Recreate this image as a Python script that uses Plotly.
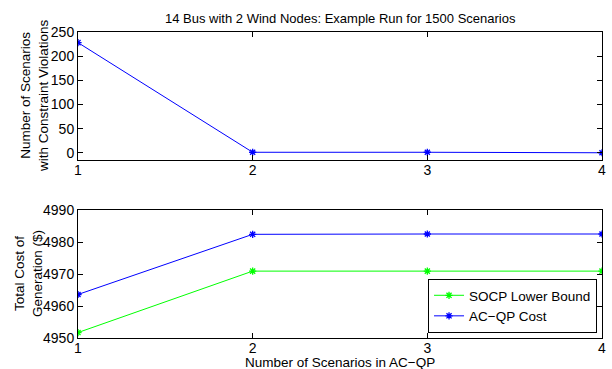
import plotly.graph_objects as go
from plotly.subplots import make_subplots

# Number of scenarios included in the AC-QP
scenarios = [1, 2, 3, 4]

# Scenarios (out of 1500) with constraint violations
violations = [228, 1, 1, 0]

# Total generation cost ($)
socp_lower_bound = [4951.7, 4970.9, 4970.9, 4970.9]
acqp_cost = [4963.6, 4982.4, 4982.5, 4982.5]

FONT = "Liberation Sans, Arial, Helvetica, sans-serif"
BLUE = "#0000ff"
GREEN = "#00ff00"

fig = make_subplots(rows=2, cols=1, vertical_spacing=0.1634)


def star_marker(color):
    return dict(color=color, symbol="asterisk", size=6, line=dict(width=1.3, color=color))


fig.add_trace(go.Scatter(
    x=scenarios, y=violations, mode="lines+markers",
    line=dict(color=BLUE, width=1), marker=star_marker(BLUE),
    showlegend=False), row=1, col=1)

fig.add_trace(go.Scatter(
    x=scenarios, y=socp_lower_bound, mode="lines+markers", name="SOCP Lower Bound",
    line=dict(color=GREEN, width=1), marker=star_marker(GREEN)),
    row=2, col=1)

fig.add_trace(go.Scatter(
    x=scenarios, y=acqp_cost, mode="lines+markers", name="AC\u2212QP Cost",
    line=dict(color=BLUE, width=1), marker=star_marker(BLUE)),
    row=2, col=1)

axis_common = dict(
    showline=True, linecolor="black", linewidth=1, mirror="ticks",
    ticks="inside", ticklen=5, tickcolor="black", tickwidth=1,
    showgrid=False, zeroline=False,
    tickfont=dict(family=FONT, size=14, color="black"),
)

fig.update_xaxes(range=[1, 4], tickvals=scenarios, ticktext=[str(s) for s in scenarios],
                 ticklabelstandoff=-3, **axis_common)
fig.update_yaxes(**axis_common)

fig.update_yaxes(range=[-15, 250], tickvals=[0, 50, 100, 150, 200, 250], row=1, col=1)
fig.update_yaxes(range=[4950, 4990], tickvals=[4950, 4960, 4970, 4980, 4990], row=2, col=1)

fig.update_layout(
    width=612, height=369,
    margin=dict(l=78, r=6, t=32, b=31),
    paper_bgcolor="white", plot_bgcolor="white",
    font=dict(family=FONT, size=13, color="black"),
    legend=dict(
        x=0.9905, y=0.0163, xanchor="right", yanchor="bottom",
        bgcolor="white", bordercolor="black", borderwidth=1,
        font=dict(family=FONT, size=13.5, color="black"),
        itemwidth=30, tracegroupgap=0,
    ),
    annotations=[
        dict(text="14 Bus with 2 Wind Nodes: Example Run for 1500 Scenarios",
             xref="paper", yref="paper", x=0.5, y=1, yshift=14,
             xanchor="center", yanchor="middle", showarrow=False,
             font=dict(family=FONT, size=13, color="black")),
        dict(text="Number of Scenarios<br>with Constraint Violations",
             xref="paper", yref="paper", x=0, xshift=-43, y=0.791,
             xanchor="center", yanchor="middle", textangle=-90, showarrow=False,
             font=dict(family=FONT, size=13.5, color="black")),
        dict(text="Total Cost of<br>Generation ($)",
             xref="paper", yref="paper", x=0, xshift=-50, y=0.209,
             xanchor="center", yanchor="middle", textangle=-90, showarrow=False,
             font=dict(family=FONT, size=13.5, color="black")),
        dict(text="Number of Scenarios in AC\u2212QP",
             xref="paper", yref="paper", x=0.5, y=0, yshift=-24,
             xanchor="center", yanchor="middle", showarrow=False,
             font=dict(family=FONT, size=13.5, color="black")),
    ],
)

fig.write_html("out.html")
